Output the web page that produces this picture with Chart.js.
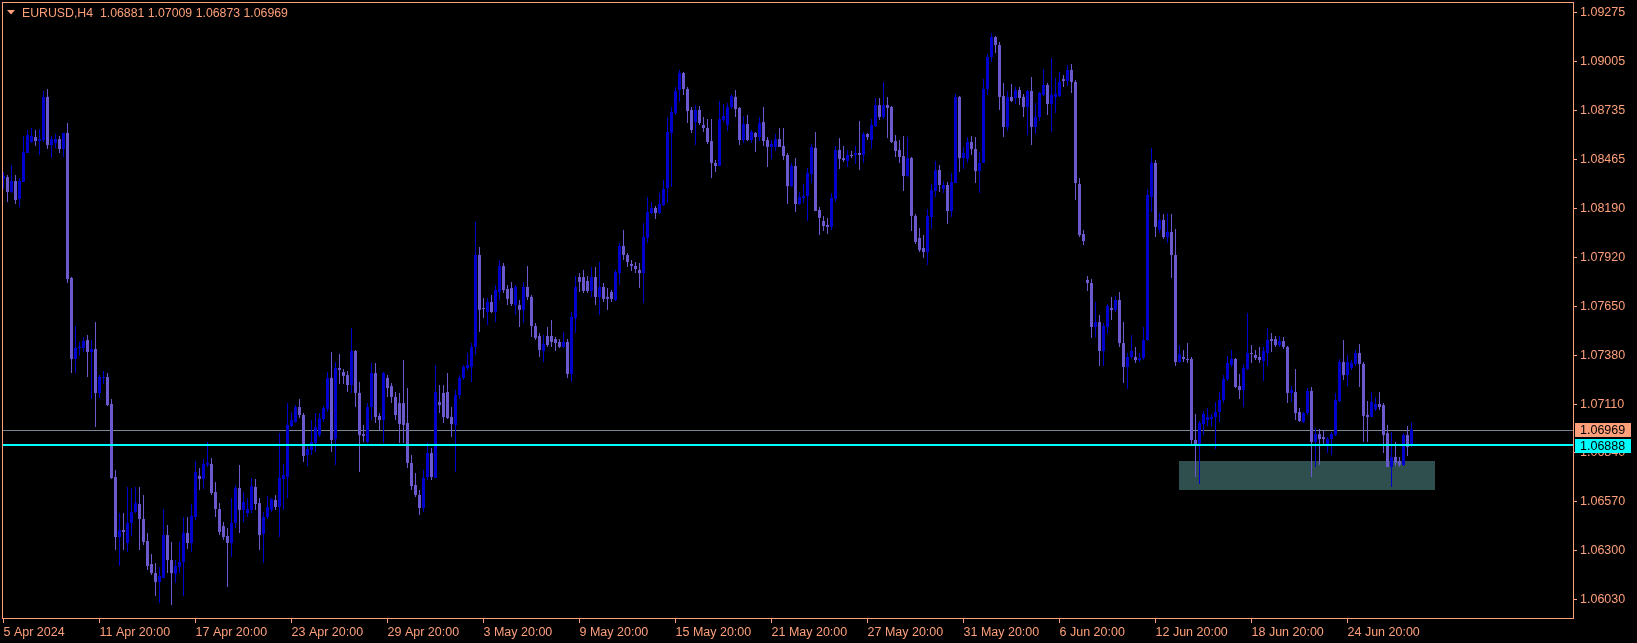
<!DOCTYPE html>
<html>
<head>
<meta charset="utf-8">
<title>EURUSD,H4</title>
<script src="https://cdn.jsdelivr.net/npm/chart.js@4.4.1/dist/chart.umd.min.js"></script>
<style>
  html, body { margin: 0; padding: 0; background: #000; overflow: hidden; }
  canvas { display: block; }
</style>
</head>
<body>
<canvas id="mygraph" width="1637" height="643"></canvas>
<script>
// EURUSD H4 candles, 5 Apr 2024 20:00 onwards (one value per bar)
const openP = [
  1.08355,1.08366,1.08283,1.08344,1.08245,1.08339,1.08499,1.08560,1.08587,1.08565,
  1.08571,1.08809,1.08543,1.08554,1.08576,1.08521,1.08610,1.07808,1.07360,1.07421,
  1.07421,1.07465,1.07398,1.07415,1.07172,1.07255,1.07260,1.07111,1.06707,1.06375,
  1.06414,1.06342,1.06453,1.06514,1.06558,1.06475,1.06353,1.06226,1.06176,1.06127,
  1.06149,1.06386,1.06248,1.06171,1.06210,1.06237,1.06398,1.06342,1.06486,1.06713,
  1.06696,1.06774,1.06779,1.06624,1.06530,1.06436,1.06381,1.06342,1.06453,1.06646,
  1.06525,1.06508,1.06525,1.06652,1.06563,1.06392,1.06486,1.06525,1.06580,1.06541,
  1.06696,1.06707,1.06989,1.07011,1.07094,1.07050,1.06829,1.06857,1.06895,1.06939,
  1.07028,1.07083,1.07255,1.06917,1.07310,1.07288,1.07271,1.07216,1.07404,1.07172,
  1.06945,1.06901,1.07094,1.07282,1.07045,1.07022,1.07255,1.07210,1.07150,1.07116,
  1.07116,1.07006,1.06785,1.06663,1.06608,1.06536,1.06707,1.06840,1.06702,1.07122,
  1.07172,1.07177,1.07039,1.06995,1.07161,1.07255,1.07310,1.07316,1.07426,1.07935,
  1.07642,1.07620,1.07675,1.07620,1.07730,1.07874,1.07747,1.07752,1.07658,1.07658,
  1.07631,1.07758,1.07703,1.07542,1.07487,1.07404,1.07487,1.07487,1.07470,1.07454,
  1.07426,1.07454,1.07277,1.07586,1.07813,1.07813,1.07791,1.07736,1.07813,1.07703,
  1.07758,1.07703,1.07730,1.07686,1.07835,1.07985,1.07935,1.07885,1.07874,1.07852,
  1.07835,1.08029,1.08167,1.08195,1.08167,1.08211,1.08305,1.08610,1.08720,1.08847,
  1.08941,1.08853,1.08737,1.08670,1.08737,1.08654,1.08637,1.08565,1.08444,1.08427,
  1.08681,1.08654,1.08753,1.08809,1.08748,1.08571,1.08659,1.08571,1.08610,1.08587,
  1.08670,1.08571,1.08532,1.08532,1.08576,1.08538,1.08488,1.08316,1.08427,1.08217,
  1.08250,1.08261,1.08383,1.08527,1.08184,1.08123,1.08101,1.08090,1.08245,1.08516,
  1.08471,1.08455,1.08488,1.08488,1.08499,1.08488,1.08604,1.08571,1.08648,1.08764,
  1.08698,1.08764,1.08753,1.08565,1.08516,1.08482,1.08372,1.08471,1.08151,1.08029,
  1.07974,1.07951,1.08145,1.08289,1.08405,1.08300,1.08322,1.08178,1.08333,1.08809,
  1.08471,1.08466,1.08560,1.08521,1.08399,1.08444,1.08853,1.09030,1.09140,1.09096,
  1.08814,1.08643,1.08809,1.08803,1.08847,1.08809,1.08753,1.08842,1.08643,1.08698,
  1.08820,1.08875,1.08770,1.08809,1.08814,1.08908,1.08897,1.08958,1.08892,1.08328,
  1.08051,1.07797,1.07780,1.07537,1.07564,1.07404,1.07537,1.07642,1.07631,1.07686,
  1.07448,1.07316,1.07371,1.07371,1.07354,1.07365,1.07465,1.08256,1.08444,1.08073,
  1.08129,1.08034,1.08062,1.07935,1.07343,1.07371,1.07360,1.07360,1.06912,1.06890,
  1.07000,1.07022,1.07028,1.07039,1.07067,1.07133,1.07249,1.07327,1.07360,1.07210,
  1.07188,1.07304,1.07393,1.07382,1.07371,1.07349,1.07393,1.07470,1.07470,1.07437,
  1.07459,1.07426,1.07172,1.07177,1.07067,1.07011,1.07061,1.07183,1.06901,1.06945,
  1.06928,1.06890,1.06917,1.06939,1.07127,1.07343,1.07271,1.07310,1.07332,1.07393,
  1.07332,1.07050,1.07039,1.07083,1.07111,1.07105,1.06950,1.06763,1.06818,1.06796,
  1.06774,1.06939,1.06881
];
const highP = [
  1.08394,1.08377,1.08433,1.08377,1.08361,1.08593,1.08626,1.08637,1.08626,1.08632,
  1.08842,1.08853,1.08593,1.08604,1.08593,1.08610,1.08665,1.07813,1.07542,1.07454,
  1.07481,1.07492,1.07465,1.07564,1.07271,1.07293,1.07282,1.07139,1.06746,1.06508,
  1.06508,1.06652,1.06646,1.06652,1.06652,1.06608,1.06398,1.06281,1.06232,1.06210,
  1.06530,1.06442,1.06348,1.06248,1.06348,1.06486,1.06486,1.06558,1.06796,1.06757,
  1.06807,1.06901,1.06812,1.06680,1.06563,1.06458,1.06425,1.06591,1.06663,1.06774,
  1.06624,1.06591,1.06702,1.06696,1.06591,1.06514,1.06602,1.06591,1.06608,1.06950,
  1.06779,1.07116,1.07067,1.07105,1.07139,1.07061,1.06884,1.07022,1.07061,1.07061,
  1.07100,1.07288,1.07398,1.07343,1.07387,1.07304,1.07293,1.07531,1.07410,1.07233,
  1.06995,1.07116,1.07338,1.07338,1.07061,1.07288,1.07271,1.07227,1.07177,1.07172,
  1.07354,1.07199,1.06829,1.06729,1.06635,1.06746,1.06895,1.06868,1.07327,1.07216,
  1.07216,1.07282,1.07094,1.07188,1.07271,1.07327,1.07393,1.07448,1.08117,1.07979,
  1.07697,1.07697,1.07714,1.07769,1.07907,1.07891,1.07769,1.07786,1.07769,1.07686,
  1.07786,1.07874,1.07714,1.07559,1.07503,1.07492,1.07537,1.07575,1.07481,1.07470,
  1.07509,1.07470,1.07620,1.07819,1.07835,1.07852,1.07819,1.07868,1.07868,1.07896,
  1.07780,1.07752,1.07741,1.07852,1.08001,1.08073,1.07946,1.07907,1.07896,1.07891,
  1.08112,1.08256,1.08228,1.08206,1.08278,1.08350,1.08698,1.08753,1.08864,1.08958,
  1.08947,1.08864,1.08753,1.08764,1.08759,1.08698,1.08687,1.08687,1.08460,1.08786,
  1.08770,1.08775,1.08825,1.08847,1.08753,1.08704,1.08709,1.08626,1.08615,1.08698,
  1.08753,1.08587,1.08571,1.08604,1.08637,1.08637,1.08499,1.08444,1.08471,1.08283,
  1.08328,1.08416,1.08549,1.08615,1.08200,1.08151,1.08140,1.08278,1.08538,1.08582,
  1.08538,1.08516,1.08510,1.08538,1.08676,1.08615,1.08610,1.08687,1.08803,1.08803,
  1.08892,1.08809,1.08759,1.08598,1.08571,1.08593,1.08587,1.08477,1.08162,1.08084,
  1.08045,1.08189,1.08328,1.08455,1.08433,1.08344,1.08339,1.08388,1.08825,1.08814,
  1.08532,1.08587,1.08593,1.08587,1.08504,1.08908,1.09046,1.09163,1.09146,1.09113,
  1.08886,1.08842,1.08880,1.08864,1.08864,1.08825,1.08847,1.08919,1.08775,1.08836,
  1.08963,1.08886,1.09024,1.08914,1.08947,1.08930,1.08986,1.08991,1.08903,1.08361,
  1.08073,1.07819,1.07802,1.07675,1.07603,1.07559,1.07664,1.07703,1.07708,1.07730,
  1.07564,1.07393,1.07492,1.07426,1.07393,1.07537,1.08300,1.08527,1.08460,1.08167,
  1.08162,1.08167,1.08162,1.08079,1.07437,1.07410,1.07448,1.07371,1.07056,1.07017,
  1.07072,1.07089,1.07056,1.07122,1.07177,1.07271,1.07376,1.07410,1.07365,1.07277,
  1.07332,1.07614,1.07437,1.07410,1.07426,1.07426,1.07531,1.07503,1.07487,1.07487,
  1.07481,1.07432,1.07210,1.07304,1.07089,1.07067,1.07199,1.07205,1.06978,1.06973,
  1.06967,1.06928,1.06956,1.07172,1.07360,1.07465,1.07382,1.07354,1.07410,1.07443,
  1.07343,1.07127,1.07177,1.07150,1.07177,1.07116,1.06995,1.06956,1.06901,1.06818,
  1.06950,1.06989,1.07009
];
const lowP = [
  1.08300,1.08228,1.08278,1.08217,1.08200,1.08339,1.08499,1.08554,1.08538,1.08488,
  1.08560,1.08521,1.08471,1.08527,1.08499,1.08477,1.07780,1.07282,1.07282,1.07376,
  1.07398,1.07260,1.07139,1.06984,1.07144,1.07222,1.07100,1.06696,1.06304,1.06215,
  1.06304,1.06293,1.06381,1.06508,1.06304,1.06331,1.06193,1.06165,1.06049,1.06010,
  1.06149,1.06176,1.06000,1.06121,1.06176,1.06049,1.06309,1.06293,1.06469,1.06635,
  1.06641,1.06763,1.06608,1.06486,1.06386,1.06359,1.06099,1.06265,1.06425,1.06398,
  1.06458,1.06486,1.06508,1.06525,1.06304,1.06232,1.06475,1.06514,1.06525,1.06375,
  1.06525,1.06591,1.06984,1.07006,1.07033,1.06790,1.06768,1.06829,1.06845,1.06928,
  1.07011,1.07067,1.06845,1.06774,1.07222,1.07222,1.07177,1.07172,1.07094,1.06735,
  1.06901,1.06895,1.07022,1.07006,1.06967,1.06895,1.07150,1.07116,1.07022,1.06895,
  1.06895,1.06757,1.06635,1.06597,1.06497,1.06514,1.06691,1.06691,1.06702,1.07061,
  1.07006,1.07028,1.06928,1.06735,1.07139,1.07244,1.07299,1.07233,1.07382,1.07509,
  1.07586,1.07548,1.07614,1.07564,1.07686,1.07725,1.07658,1.07653,1.07603,1.07537,
  1.07559,1.07686,1.07481,1.07465,1.07371,1.07343,1.07426,1.07426,1.07404,1.07421,
  1.07421,1.07255,1.07233,1.07503,1.07730,1.07725,1.07725,1.07703,1.07658,1.07603,
  1.07675,1.07631,1.07675,1.07681,1.07769,1.07907,1.07868,1.07846,1.07835,1.07752,
  1.07669,1.08001,1.08162,1.08134,1.08162,1.08206,1.08222,1.08311,1.08709,1.08781,
  1.08820,1.08665,1.08610,1.08543,1.08654,1.08615,1.08549,1.08361,1.08394,1.08427,
  1.08670,1.08621,1.08742,1.08698,1.08543,1.08554,1.08565,1.08554,1.08504,1.08565,
  1.08538,1.08422,1.08466,1.08510,1.08532,1.08460,1.08217,1.08311,1.08173,1.08211,
  1.08222,1.08123,1.08333,1.08178,1.08045,1.08068,1.08051,1.08073,1.08228,1.08410,
  1.08449,1.08422,1.08471,1.08438,1.08405,1.08444,1.08571,1.08521,1.08643,1.08681,
  1.08687,1.08582,1.08554,1.08477,1.08444,1.08289,1.08366,1.08068,1.07996,1.07951,
  1.07918,1.07880,1.08079,1.08256,1.08283,1.08278,1.08106,1.08145,1.08333,1.08394,
  1.08410,1.08444,1.08488,1.08333,1.08278,1.08444,1.08820,1.09002,1.09052,1.08737,
  1.08587,1.08621,1.08781,1.08770,1.08764,1.08698,1.08598,1.08543,1.08604,1.08676,
  1.08814,1.08709,1.08615,1.08720,1.08809,1.08864,1.08869,1.08831,1.08239,1.08034,
  1.07990,1.07736,1.07476,1.07481,1.07321,1.07321,1.07498,1.07575,1.07620,1.07426,
  1.07227,1.07194,1.07360,1.07338,1.07343,1.07354,1.07459,1.08173,1.08034,1.08057,
  1.08023,1.08001,1.07808,1.07321,1.07338,1.07343,1.07338,1.06890,1.06707,1.06669,
  1.06939,1.06989,1.06984,1.06862,1.07011,1.07116,1.07238,1.07316,1.07199,1.07139,
  1.07094,1.07299,1.07338,1.07354,1.07338,1.07238,1.07321,1.07398,1.07426,1.07426,
  1.07415,1.07116,1.07122,1.07022,1.07011,1.07006,1.07050,1.06707,1.06763,1.06774,
  1.06890,1.06840,1.06829,1.06934,1.07122,1.07244,1.07210,1.07299,1.07321,1.07205,
  1.06901,1.06901,1.07039,1.07072,1.07078,1.06840,1.06763,1.06652,1.06768,1.06763,
  1.06768,1.06823,1.06873
];
const closeP = [
  1.08372,1.08283,1.08344,1.08239,1.08344,1.08504,1.08598,1.08593,1.08565,1.08576,
  1.08809,1.08543,1.08576,1.08576,1.08521,1.08610,1.07802,1.07360,1.07421,1.07426,
  1.07459,1.07398,1.07415,1.07172,1.07260,1.07260,1.07105,1.06702,1.06375,1.06414,
  1.06403,1.06453,1.06514,1.06563,1.06475,1.06348,1.06215,1.06176,1.06127,1.06160,
  1.06386,1.06248,1.06176,1.06215,1.06237,1.06398,1.06342,1.06492,1.06735,1.06696,
  1.06779,1.06785,1.06619,1.06530,1.06403,1.06375,1.06342,1.06453,1.06646,1.06525,
  1.06569,1.06530,1.06657,1.06558,1.06386,1.06486,1.06541,1.06586,1.06541,1.06702,
  1.06718,1.06995,1.07022,1.07094,1.07050,1.06823,1.06862,1.06901,1.06984,1.07033,
  1.07089,1.07255,1.06912,1.07310,1.07299,1.07266,1.07216,1.07404,1.07172,1.06939,
  1.06934,1.07094,1.07282,1.07039,1.07022,1.07282,1.07199,1.07150,1.07050,1.07000,
  1.06995,1.06785,1.06657,1.06608,1.06536,1.06702,1.06840,1.06707,1.07177,1.07105,
  1.07039,1.07033,1.07000,1.07161,1.07255,1.07316,1.07327,1.07426,1.07935,1.07631,
  1.07636,1.07675,1.07620,1.07741,1.07874,1.07741,1.07692,1.07664,1.07758,1.07631,
  1.07758,1.07703,1.07542,1.07476,1.07410,1.07443,1.07437,1.07454,1.07448,1.07426,
  1.07454,1.07277,1.07592,1.07758,1.07786,1.07736,1.07736,1.07813,1.07703,1.07758,
  1.07692,1.07692,1.07692,1.07841,1.07985,1.07935,1.07896,1.07874,1.07857,1.07835,
  1.08034,1.08173,1.08195,1.08167,1.08217,1.08300,1.08615,1.08726,1.08842,1.08941,
  1.08853,1.08731,1.08626,1.08737,1.08665,1.08637,1.08560,1.08444,1.08427,1.08687,
  1.08704,1.08753,1.08814,1.08742,1.08571,1.08659,1.08571,1.08615,1.08587,1.08665,
  1.08565,1.08532,1.08549,1.08576,1.08532,1.08482,1.08316,1.08427,1.08217,1.08256,
  1.08261,1.08388,1.08532,1.08178,1.08140,1.08095,1.08090,1.08250,1.08516,1.08466,
  1.08460,1.08488,1.08482,1.08499,1.08488,1.08604,1.08587,1.08654,1.08764,1.08698,
  1.08764,1.08748,1.08560,1.08510,1.08477,1.08372,1.08471,1.08151,1.08007,1.07962,
  1.07951,1.08151,1.08294,1.08405,1.08322,1.08322,1.08178,1.08339,1.08809,1.08471,
  1.08499,1.08560,1.08521,1.08399,1.08444,1.08853,1.09030,1.09140,1.09096,1.08809,
  1.08643,1.08809,1.08786,1.08847,1.08803,1.08753,1.08842,1.08643,1.08698,1.08831,
  1.08875,1.08770,1.08820,1.08825,1.08892,1.08897,1.08958,1.08892,1.08333,1.08045,
  1.08012,1.07780,1.07537,1.07564,1.07404,1.07542,1.07653,1.07631,1.07686,1.07448,
  1.07316,1.07371,1.07404,1.07354,1.07365,1.07465,1.08267,1.08444,1.08090,1.08129,
  1.08034,1.08062,1.07935,1.07343,1.07387,1.07360,1.07354,1.06912,1.06890,1.07006,
  1.07056,1.07039,1.07039,1.07067,1.07133,1.07249,1.07338,1.07360,1.07205,1.07188,
  1.07310,1.07393,1.07387,1.07365,1.07354,1.07404,1.07465,1.07459,1.07437,1.07459,
  1.07426,1.07172,1.07188,1.07061,1.07017,1.07061,1.07183,1.06901,1.06945,1.06917,
  1.06917,1.06917,1.06945,1.07133,1.07343,1.07271,1.07343,1.07338,1.07393,1.07332,
  1.07045,1.07039,1.07122,1.07111,1.07094,1.06939,1.06763,1.06818,1.06785,1.06774,
  1.06939,1.06873,1.06969
];

// time axis labels and the bar each one belongs to
const xTickBars = [0, 24, 48, 72, 96, 120, 144, 168, 192, 216, 240, 264, 288, 312, 336];
const xTickLabels = ['5 Apr 2024', '11 Apr 20:00', '17 Apr 20:00', '23 Apr 20:00', '29 Apr 20:00',
  '3 May 20:00', '9 May 20:00', '15 May 20:00', '21 May 20:00', '27 May 20:00',
  '31 May 20:00', '6 Jun 20:00', '12 Jun 20:00', '18 Jun 20:00', '24 Jun 20:00'];

// price axis labels (bottom to top)
const yTickLabels = ['1.06030', '1.06300', '1.06570', '1.06840', '1.07110', '1.07380', '1.07650',
  '1.07920', '1.08190', '1.08465', '1.08735', '1.09005', '1.09275'];

const symbolName = 'EURUSD,H4';
const userLevel = 1.06888;            // cyan horizontal line
const zoneBars = [293.9, 357.9];      // support rectangle, bar range
const zonePrices = [1.06635, 1.06796];// support rectangle, price range

const upColor = '#0000CD';
const downColor = '#6A5ACD';
const fgColor = '#FFA07A';
const fontFam = "'Liberation Sans', Arial, sans-serif";

const lastBar = closeP.length - 1;
const bidPrice = closeP[lastBar];
const barColors = openP.map((o, i) => closeP[i] >= o ? upColor : downColor);

function fmt(v){
  return v.toFixed(5);
}

// extra drawing: rectangle, price lines, price boxes, frame and title
const overlay = {
  id: 'overlay',
  beforeDatasetsDraw(chart){
    const {ctx, chartArea: a, scales: {x, y}} = chart;
    ctx.save();
    const x0 = Math.round(x.getPixelForValue(zoneBars[0]));
    const x1 = Math.round(x.getPixelForValue(zoneBars[1]));
    const y0 = Math.round(y.getPixelForValue(zonePrices[1]));
    const y1 = Math.round(y.getPixelForValue(zonePrices[0]));
    ctx.fillStyle = '#2F4F4F';
    ctx.fillRect(x0, y0, x1 - x0, y1 - y0);
    // bid line
    const by = Math.round(y.getPixelForValue(bidPrice));
    ctx.fillStyle = '#778899';
    ctx.fillRect(a.left, by, a.right - a.left, 1);
    ctx.restore();
  },
  afterDatasetsDraw(chart){
    const {ctx, chartArea: a, scales: {y}} = chart;
    ctx.save();
    const cy = Math.round(y.getPixelForValue(userLevel));
    ctx.fillStyle = '#00FFFF';
    ctx.fillRect(a.left, cy, a.right - a.left, 2);

    // price boxes on the axis
    const by = Math.round(y.getPixelForValue(bidPrice));
    ctx.font = '12.5px ' + fontFam;
    ctx.textBaseline = 'middle';
    ctx.textAlign = 'left';
    ctx.fillStyle = fgColor;
    ctx.fillRect(a.right + 2, by - 7, 56, 14);
    ctx.fillStyle = '#000';
    ctx.fillText(fmt(bidPrice), a.right + 7, by + 0.5);
    ctx.fillStyle = '#00FFFF';
    ctx.fillRect(a.right + 2, cy - 5, 56, 14);
    ctx.fillStyle = '#000';
    ctx.fillText(fmt(userLevel), a.right + 7, cy + 2.5);
    ctx.restore();
  },
  afterDraw(chart){
    const {ctx, chartArea: a} = chart;
    ctx.save();
    ctx.strokeStyle = fgColor;
    ctx.lineWidth = 1;
    ctx.strokeRect(a.left + 0.5, a.top + 0.5, a.right - a.left, a.bottom - a.top - 1);
    // title
    ctx.fillStyle = fgColor;
    ctx.beginPath();
    ctx.moveTo(7, 10);
    ctx.lineTo(15, 10);
    ctx.lineTo(11, 14.5);
    ctx.closePath();
    ctx.fill();
    ctx.font = '12.3px ' + fontFam;
    ctx.textBaseline = 'alphabetic';
    const title = symbolName + '  ' + [openP[lastBar], highP[lastBar], lowP[lastBar], closeP[lastBar]].map(fmt).join(' ');
    ctx.fillText(title, 22, 17);
    ctx.restore();
  }
};

const graph = document.getElementById('mygraph');
new Chart(graph, {
  type: 'bar',
  data: {
    datasets: [
      {
        // wicks
        data: highP.map((h, i) => ({x: i, y: [lowP[i], h]})),
        backgroundColor: barColors,
        grouped: false,
        categoryPercentage: 1,
        barPercentage: 0.25,
        inflateAmount: 0,
        borderWidth: 0
      },
      {
        // bodies
        data: openP.map((o, i) => ({x: i, y: [o, closeP[i]]})),
        backgroundColor: barColors,
        grouped: false,
        categoryPercentage: 1,
        barPercentage: 0.75,
        minBarLength: 1,
        inflateAmount: 0,
        borderWidth: 0
      }
    ]
  },
  plugins: [overlay],
  options: {
    responsive: false,
    devicePixelRatio: 1,
    animation: false,
    layout: {padding: {left: 2, top: 2, right: 0, bottom: 0}},
    plugins: {legend: {display: false}, tooltip: {enabled: false}},
    scales: {
      x: {
        type: 'linear',
        offset: false,
        min: -0.375,
        max: 392.375,
        border: {display: false},
        grid: {drawOnChartArea: false, drawTicks: true, tickLength: 4, color: fgColor, offset: false},
        ticks: {
          color: fgColor,
          font: {family: fontFam, size: 12.5},
          align: 'start',
          autoSkip: false,
          maxRotation: 0,
          minRotation: 0,
          padding: 2,
          callback: (v, idx) => xTickLabels[idx]
        },
        afterBuildTicks: (scale) => {
          scale.ticks = xTickBars.map(b => ({value: b}));
        },
        afterFit: (scale) => {
          scale.height = 24;
          scale.paddingLeft = 0;
          scale.paddingRight = 0;
        }
      },
      y: {
        type: 'linear',
        position: 'right',
        min: 1.05922,
        max: 1.09334,
        border: {display: false},
        grid: {drawOnChartArea: false, drawTicks: true, tickLength: 4, color: fgColor},
        ticks: {
          color: fgColor,
          font: {family: fontFam, size: 12.5},
          padding: 3,
          callback: (v, idx) => yTickLabels[idx]
        },
        afterBuildTicks: (scale) => {
          scale.ticks = yTickLabels.map(t => ({value: parseFloat(t)}));
        },
        afterFit: (scale) => {
          scale.width = 64;
          scale.paddingTop = 0;
          scale.paddingBottom = 0;
        }
      }
    }
  }
});
</script>
</body>
</html>
